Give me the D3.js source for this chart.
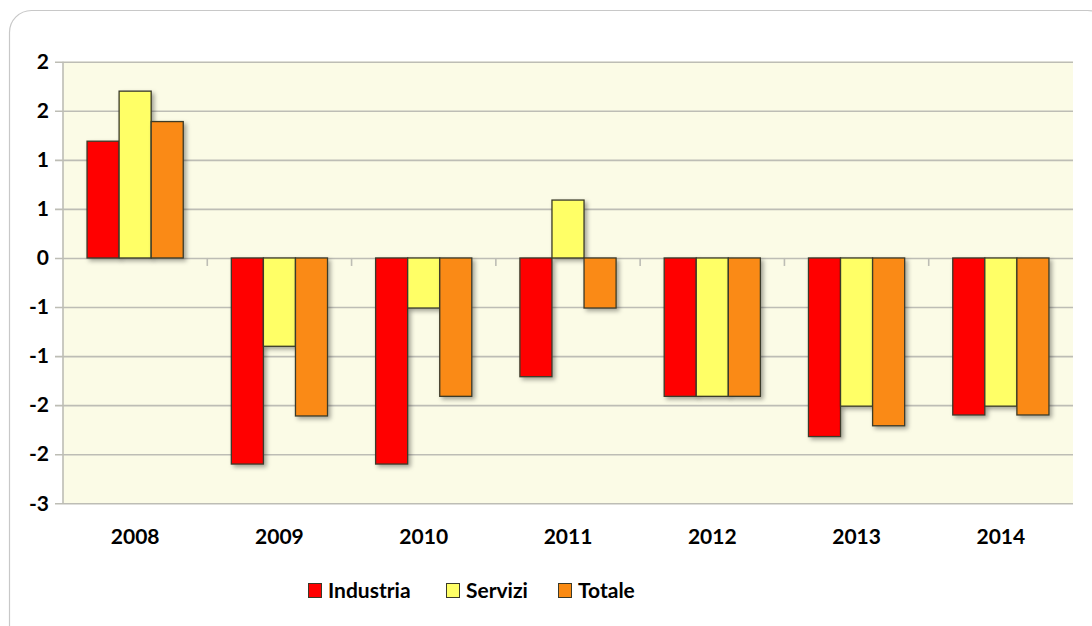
<!DOCTYPE html>
<html><head><meta charset="utf-8">
<script src="https://cdn.jsdelivr.net/npm/d3@7"></script>
<style>
html,body{margin:0;padding:0;background:#fff;}
svg{display:block;}
text{font-family:Lato,"Open Sans",sans-serif;}
</style></head>
<body>
<svg id="chart" width="1092" height="626"></svg>
<script>
const years = ["2008","2009","2010","2011","2012","2013","2014"];
const seriesNames = ["Industria","Servizi","Totale"];
const industria = [1.19,-2.10,-2.10,-1.21,-1.41,-1.82,-1.60];
const servizi   = [1.70,-0.90,-0.51,0.59,-1.41,-1.51,-1.51];
const totale    = [1.39,-1.61,-1.41,-0.51,-1.41,-1.71,-1.60];
const yTickValues = [2.0,1.5,1.0,0.5,0,-0.5,-1.0,-1.5,-2.0,-2.5];
const yTickLabels = ["2","2","1","1","0","-1","-1","-2","-2","-3"];
const colors = ["#FF0000","#FFFF66","#FA8A12"];

(function(){
const seriesValues = [industria, servizi, totale];
const svg = d3.select("#chart");

const defs = svg.append("defs");
const f = defs.append("filter").attr("id","shadow").attr("x","-20%").attr("y","-20%").attr("width","150%").attr("height","150%");
f.append("feDropShadow").attr("dx",2.5).attr("dy",2.5).attr("stdDeviation",2).attr("flood-color","#000").attr("flood-opacity",0.35);

// outer frame
svg.append("rect").attr("x",9.5).attr("y",10.5).attr("width",1100).attr("height",640)
  .attr("rx",22).attr("fill","#fff").attr("stroke","#c8c8c8").attr("stroke-width",1.2);

const pL=63, pR=1073, pT=61.7, pB=503.3;
const y = d3.scaleLinear().domain([-2.5,2.0]).range([pB, pT]);
const x = d3.scaleBand().domain(years).range([pL,pR]).padding(0);
const step = x.bandwidth();
const xs = d3.scaleBand().domain(seriesNames).range([step/6, step*5/6]).padding(0);

// plot area
svg.append("rect").attr("x",pL).attr("y",pT).attr("width",pR-pL).attr("height",pB-pT).attr("fill","#FBFBE6");

// gridlines + y axis
const yAxis = d3.axisLeft(y).tickValues(yTickValues).tickSize(-(pR-pL)).tickSizeOuter(0)
  .tickFormat((d,i)=>yTickLabels[i]).tickPadding(14);
const gy = svg.append("g").attr("transform",`translate(${pL},0)`).call(yAxis);
gy.select(".domain").remove();
gy.selectAll(".tick line").attr("stroke","#BDBDB5").attr("stroke-width",1.6).attr("x1",-8);
gy.selectAll(".tick text").attr("font-size",21).attr("font-weight",700).attr("fill","#000");
svg.append("line").attr("x1",pL).attr("x2",pL).attr("y1",pT).attr("y2",pB).attr("stroke","#BDBDB5").attr("stroke-width",1.6);

// category ticks at zero line
const zeroY = y(0);
svg.append("g").selectAll("line").data(years.slice(1)).join("line")
  .attr("x1",d=>x(d)).attr("x2",d=>x(d)).attr("y1",zeroY).attr("y2",zeroY+8)
  .attr("stroke","#BDBDB5").attr("stroke-width",1.6);

// bars
const g = svg.append("g");
seriesNames.forEach((s,si)=>{
  g.append("g").selectAll("rect").data(years).join("rect")
    .attr("x",(d)=>x(d)+xs(s))
    .attr("width",xs.bandwidth())
    .attr("y",(d,i)=>y(Math.max(0,seriesValues[si][i])))
    .attr("height",(d,i)=>Math.abs(y(seriesValues[si][i])-y(0)))
    .attr("fill",colors[si]).attr("stroke","#3a3a2a").attr("stroke-width",1.3)
    .attr("filter","url(#shadow)");
});

// x labels
svg.append("g").selectAll("text").data(years).join("text")
  .attr("x",d=>x(d)+step/2).attr("y",544).attr("text-anchor","middle")
  .attr("font-size",21).attr("font-weight",700).attr("fill","#000").text(d=>d);

// legend
const legendX = [308,446,558];
const lg = svg.append("g");
seriesNames.forEach((s,i)=>{
  lg.append("rect").attr("x",legendX[i]+0.5).attr("y",583.5).attr("width",13).attr("height",14)
    .attr("fill",colors[i]).attr("stroke","#3a3a2a").attr("stroke-width",1);
  lg.append("text").attr("x",legendX[i]+20).attr("y",598).attr("font-size",21).attr("font-weight",700)
    .attr("fill","#000").text(s);
});
})();
</script>
</body></html>
